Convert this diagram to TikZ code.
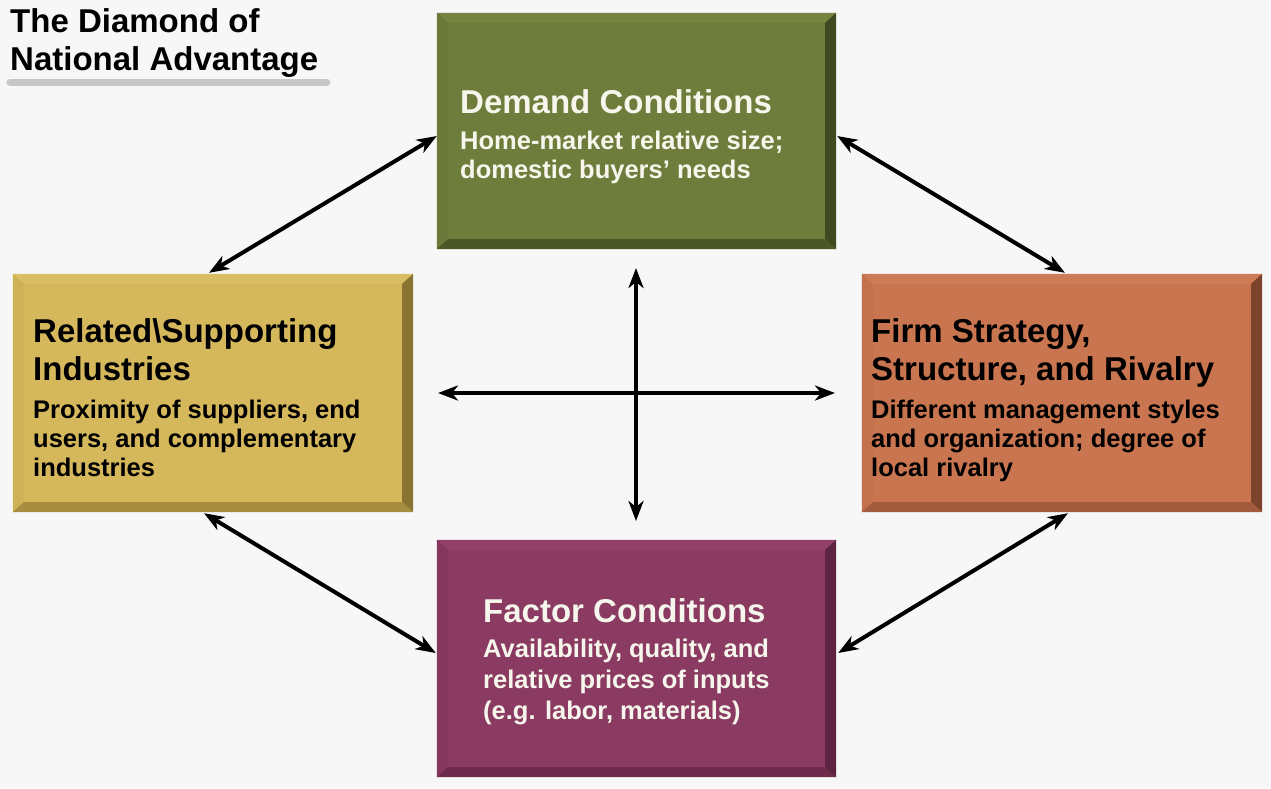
\documentclass[tikz,border=0pt]{standalone}
\usepackage{fontspec}
\setmainfont{Liberation Sans}
\usetikzlibrary{arrows.meta,calc}
\definecolor{bg}{HTML}{F7F7F7}
\definecolor{gMain}{HTML}{6E7D3B}\definecolor{gTop}{HTML}{758540}\definecolor{gLeft}{HTML}{6A7939}\definecolor{gRight}{HTML}{404A21}\definecolor{gBot}{HTML}{4C5727}
\definecolor{yMain}{HTML}{D5B85B}\definecolor{yTop}{HTML}{D9BE63}\definecolor{yLeft}{HTML}{CFB257}\definecolor{yRight}{HTML}{8A7434}\definecolor{yBot}{HTML}{A68D3F}
\definecolor{oMain}{HTML}{C97550}\definecolor{oTop}{HTML}{CD7C57}\definecolor{oLeft}{HTML}{C3704C}\definecolor{oRight}{HTML}{7C432B}\definecolor{oBot}{HTML}{A25B3C}
\definecolor{pMain}{HTML}{8B3A62}\definecolor{pTop}{HTML}{914068}\definecolor{pLeft}{HTML}{86375E}\definecolor{pRight}{HTML}{5C2440}\definecolor{pBot}{HTML}{6E2B4C}
\definecolor{wtext}{HTML}{F6F6EC}
\newcommand\hfont{\bfseries\fontsize{33}{38}\selectfont}
\newcommand\bfont{\bfseries\fontsize{25.5}{29}\selectfont}
\newcommand\bevelbox[5]{%
  \fill[#2] (#1.north west) -- (#1.north east) -- ($(#1.north east)+(-11,10)$) -- ($(#1.north west)+(11,10)$) -- cycle;
  \fill[#3] (#1.north west) -- ($(#1.north west)+(11,10)$) -- ($(#1.south west)+(11,-10)$) -- (#1.south west) -- cycle;
  \fill[#4] (#1.north east) -- ($(#1.north east)+(-11,10)$) -- ($(#1.south east)+(-11,-10)$) -- (#1.south east) -- cycle;
  \fill[#5] (#1.south west) -- ($(#1.south west)+(11,-10)$) -- ($(#1.south east)+(-11,-10)$) -- (#1.south east) -- cycle;
}
\tikzset{
  box/.style={rectangle, inner sep=0pt, draw=none, minimum width=400pt, minimum height=237pt},
  hd/.style={anchor=base west, inner sep=0pt, font=\hfont},
  bd/.style={anchor=base west, inner sep=0pt, font=\bfont},
  link/.style={draw=black, line width=4pt, {Stealth[length=20pt,width=15pt,inset=6pt]}-{Stealth[length=20pt,width=15pt,inset=6pt]}},
}
\begin{document}
\begin{tikzpicture}[x=1pt,y=-1pt]
\fill[bg] (0,0) rectangle (1271,788);
\useasboundingbox (0,0) rectangle (1271,788);
% title
\node[hd] (t1) at (10,32) {The Diamond of};
\node[hd] (t2) at (10,70) {National Advantage};
\draw[line width=7pt, line cap=round, color=black!22] (10,82) -- (327,82);
% boxes
\node[box, fill=gMain, minimum width=399pt, minimum height=236pt] (dem) at (636.5,131) {};
\bevelbox{dem}{gTop}{gLeft}{gRight}{gBot}
\node[box, fill=yMain, minimum height=238pt] (rel) at (213,393) {};
\bevelbox{rel}{yTop}{yLeft}{yRight}{yBot}
\node[box, fill=oMain, minimum height=238pt] (firm) at (1062,393) {};
\bevelbox{firm}{oTop}{oLeft}{oRight}{oBot}
\node[box, fill=pMain, minimum width=399pt, minimum height=237pt] (fac) at (636.5,658.5) {};
\bevelbox{fac}{pTop}{pLeft}{pRight}{pBot}
% texts
\node[hd, text=wtext] (d1) at (460,113) {Demand Conditions};
\node[bd, text=wtext] (d2) at (460,149) {Home-market relative size;};
\node[bd, text=wtext] (d3) at (460,178) {domestic buyers’ needs};
\node[hd] (r1) at (33,342) {Related\textbackslash Supporting};
\node[hd] (r2) at (33,380) {Industries};
\node[bd] (r3) at (33,418) {Proximity of suppliers, end};
\node[bd] (r4) at (33,447) {users, and complementary};
\node[bd] (r5) at (33,476) {industries};
\node[hd] (f1) at (871,342) {Firm Strategy,};
\node[hd] (f2) at (871,380) {Structure, and Rivalry};
\node[bd] (f3) at (871,418) {Different management styles};
\node[bd] (f4) at (871,447) {and organization; degree of};
\node[bd] (f5) at (871,476) {local rivalry};
\node[hd, text=wtext] (c1) at (483,622) {Factor Conditions};
\node[bd, text=wtext] (c2) at (483,657) {Availability, quality, and};
\node[bd, text=wtext] (c3) at (483,688) {relative prices of inputs};
\node[bd, text=wtext] (c4) at (483,719) {(e.g. labor, materials)};
% cross
\coordinate (vt) at (636,268);
\coordinate (vb) at (636,521);
\coordinate (hl) at (438,393);
\coordinate (hr) at (835,393);
\path[link] (vt) -- (vb);
\path[link] (hl) -- (hr);
% diagonals
\path[link] ([xshift=-4pt,yshift=1pt]rel.north) -- ([xshift=0pt,yshift=-5pt]dem.west);
\path[link] ([xshift=1pt,yshift=-5pt]dem.east) -- ([xshift=3pt,yshift=1pt]firm.north);
\path[link] ([xshift=-9pt,yshift=-1pt]rel.south) -- ([xshift=-1pt,yshift=5.5pt]fac.west);
\path[link] ([xshift=6pt,yshift=-1pt]firm.south) -- ([xshift=2pt,yshift=5.5pt]fac.east);
\end{tikzpicture}
\end{document}
